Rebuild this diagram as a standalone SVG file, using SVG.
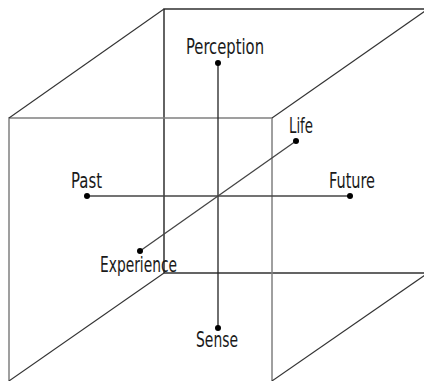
<svg xmlns="http://www.w3.org/2000/svg" width="424" height="381" viewBox="0 0 424 381">
  <style>
    .back { fill: none; stroke: #111; stroke-width: 1.3; }
    .front { fill: none; stroke: #808080; stroke-width: 1.5; }
    .diag { fill: none; stroke: #333; stroke-width: 1.1; }
    .axis { stroke: #222; stroke-width: 1.3; fill: none; }
    .axis2 { stroke: #444; stroke-width: 1.3; fill: none; }
    .dot { fill: #000; }
    .lbl { font-family: "Liberation Sans Narrow", "DejaVu Sans Condensed", "Liberation Sans", sans-serif; font-stretch: condensed; font-size: 21px; fill: #1a1a1a; }
  </style>
  <rect width="424" height="381" fill="#fff"/>
  <g id="cube">
    <rect class="back" x="164" y="9" width="264" height="264"/>
    <rect class="front" x="9" y="118" width="263" height="265"/>
    <line class="diag" x1="9" y1="118" x2="164" y2="9"/>
    <line class="diag" x1="272" y1="118" x2="428" y2="9"/>
    <line class="diag" x1="164" y1="273" x2="9" y2="381"/>
    <line class="diag" x1="428" y1="273" x2="272" y2="381"/>
  </g>
  <g id="connectors">
    <line class="axis" x1="218" y1="63" x2="218" y2="328"/>
    <line class="axis2" x1="87" y1="196" x2="350" y2="196"/>
    <line class="axis2" x1="296" y1="141" x2="140" y2="251"/>
  </g>
  <g id="perception">
    <circle class="dot" cx="218" cy="63" r="3"/>
    <text class="lbl" x="186" y="54" textLength="78" lengthAdjust="spacingAndGlyphs">Perception</text>
  </g>
  <g id="sense">
    <circle class="dot" cx="218" cy="328" r="3"/>
    <text class="lbl" x="196" y="347" textLength="42" lengthAdjust="spacingAndGlyphs">Sense</text>
  </g>
  <g id="past">
    <circle class="dot" cx="87" cy="196" r="3"/>
    <text class="lbl" x="71" y="188" textLength="31" lengthAdjust="spacingAndGlyphs">Past</text>
  </g>
  <g id="future">
    <circle class="dot" cx="350" cy="196" r="3"/>
    <text class="lbl" x="329" y="188" textLength="46" lengthAdjust="spacingAndGlyphs">Future</text>
  </g>
  <g id="life">
    <circle class="dot" cx="296" cy="141" r="3"/>
    <text class="lbl" x="289" y="133" textLength="24" lengthAdjust="spacingAndGlyphs">Life</text>
  </g>
  <g id="experience">
    <circle class="dot" cx="140" cy="251" r="3"/>
    <text class="lbl" x="100" y="272" textLength="77" lengthAdjust="spacingAndGlyphs">Experience</text>
  </g>
</svg>
